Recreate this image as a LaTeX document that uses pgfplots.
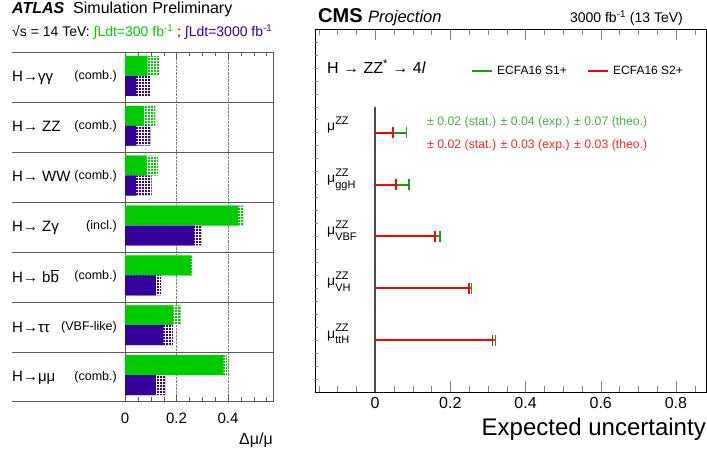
\documentclass[border=0pt]{standalone}
\usepackage{fontspec}
\setmainfont{Liberation Sans}
\usepackage{pgfplots}
\usepackage{pgfplotstable}
\pgfplotsset{compat=1.18}
\usetikzlibrary{patterns}

\definecolor{atlasgreen}{RGB}{0,204,0}
\definecolor{atlaspurple}{RGB}{51,0,153}
\definecolor{cmsgreen}{RGB}{20,160,20}
\definecolor{cmsred}{RGB}{255,0,0}
\definecolor{sepgray}{RGB}{90,90,90}

% ATLAS: solid = stat-only part, tot = incl. theory (hatched)
\pgfplotstableread{
y gsol gtot psol ptot
7 0.088 0.133 0.044 0.097
6 0.073 0.118 0.044 0.099
5 0.084 0.129 0.042 0.103
4 0.439 0.460 0.270 0.298
3 0.256 0.264 0.120 0.140
2 0.186 0.216 0.149 0.186
1 0.382 0.396 0.120 0.157
}\atlas

\newcommand{\fs}[1]{\fontsize{#1}{#1}\selectfont}
\newcommand{\mulab}[2]{μ\rlap{\raisebox{6.5pt}{\fs{11}#1}}\raisebox{-5.5pt}{\fs{11}#2}}

\begin{document}
\begin{tikzpicture}[x=1pt,y=1pt]

% ---------------- ATLAS panel ----------------
\begin{axis}[
    at={(125pt,52pt)}, anchor=south west,
    scale only axis, width=148pt, height=349pt,
    xmin=0, xmax=0.575, ymin=0.5, ymax=7.5,
    xtick={0,0.2,0.4}, minor xtick={0.05,0.1,...,0.56},
    ytick=\empty,
    tick align=inside,
    major tick length=7pt, minor tick length=4pt,
    xmajorgrids, major grid style={densely dotted, gray},
    axis line style={sepgray},
    tick style={sepgray},
    xticklabel style={font=\fs{15}, yshift=-8pt},
    /pgf/number format/assume math mode=true,
]
\addplot[xbar, bar width=0.4, bar shift=0pt, fill=atlasgreen, draw=none,
    postaction={pattern=grid, pattern color=white}]
    table[x=gtot, y expr=\thisrow{y}+0.22] {\atlas};
\addplot[xbar, bar width=0.4, bar shift=0pt, fill=atlasgreen, draw=none]
    table[x=gsol, y expr=\thisrow{y}+0.22] {\atlas};
\addplot[xbar, bar width=0.4, bar shift=0pt, fill=atlaspurple, draw=none,
    postaction={pattern=grid, pattern color=white}]
    table[x=ptot, y expr=\thisrow{y}-0.18] {\atlas};
\addplot[xbar, bar width=0.4, bar shift=0pt, fill=atlaspurple, draw=none]
    table[x=psol, y expr=\thisrow{y}-0.18] {\atlas};
\end{axis}

% row separators reaching into the label column
\foreach \yy in {52,102,152,202,252,302,352,401}
    \draw[sepgray, line width=0.8pt] (12,453-\yy) -- (273,453-\yy);

\node[anchor=base west, inner sep=0] at (12,439) {\fs{16}\bfseries\itshape ATLAS};
\node[anchor=base west, inner sep=0] at (73,439) {\fs{16}Simulation Preliminary};
\node[anchor=base west, inner sep=0] at (12,416) {\fs{14}√s = 14 TeV: \textcolor{atlasgreen}{∫Ldt=300 fb\textsuperscript{-1}} ; \textcolor{atlaspurple}{∫Ldt=3000 fb\textsuperscript{-1}}};

\node[anchor=base west, inner sep=0] at (12,371) {\fs{15}H→γγ};
\node[anchor=base west, inner sep=0] at (12,321) {\fs{15}H→ ZZ};
\node[anchor=base west, inner sep=0] at (12,271) {\fs{15}H→ WW};
\node[anchor=base west, inner sep=0] at (12,221) {\fs{15}H→ Zγ};
\node[anchor=base west, inner sep=0] at (12,171) {\fs{15}H→ b$\overline{\mbox{b}}$};
\node[anchor=base west, inner sep=0] at (12,121) {\fs{15}H→ττ};
\node[anchor=base west, inner sep=0] at (12,72) {\fs{15}H→μμ};

\node[anchor=base east, inner sep=0] at (117,373) {\fs{12.5}(comb.)};
\node[anchor=base east, inner sep=0] at (117,323) {\fs{12.5}(comb.)};
\node[anchor=base east, inner sep=0] at (117,273) {\fs{12.5}(comb.)};
\node[anchor=base east, inner sep=0] at (117,223) {\fs{12.5}(incl.)};
\node[anchor=base east, inner sep=0] at (117,173) {\fs{12.5}(comb.)};
\node[anchor=base east, inner sep=0] at (117,123) {\fs{12.5}(VBF-like)};
\node[anchor=base east, inner sep=0] at (117,73) {\fs{12.5}(comb.)};

\node[anchor=base east, inner sep=0] at (273,9) {\fs{16}Δμ/μ};

% ---------------- CMS panel ----------------
\begin{axis}[
    at={(315pt,61pt)}, anchor=south west,
    scale only axis, width=391pt, height=363pt,
    xmin=-0.16, xmax=0.88, ymin=0, ymax=7,
    xtick={0,0.2,0.4,0.6,0.8}, minor xtick={-0.15,-0.1,...,0.86},
    ytick=\empty,
    tick align=inside,
    major tick length=11pt, minor tick length=6pt,
    axis line style={black, line width=0.8pt},
    xticklabel style={font=\fs{16}, yshift=-2pt},
    /pgf/number format/assume math mode=true,
    every axis plot/.append style={line width=2pt},
    cap/.style={mark=|, mark indices={2}, mark options={solid, line width=1.6pt, mark size=5.5pt}},
]
\addplot[gray!60!black, line width=1.5pt] coordinates {(0,0) (0,5.5)};
% ECFA16 S1+ (green), drawn below S2+ (red)
\addplot[cmsgreen, cap] coordinates {(0,5) (0.083,5)};
\addplot[cmsgreen, cap] coordinates {(0,4) (0.090,4)};
\addplot[cmsgreen, cap] coordinates {(0,3) (0.172,3)};
\addplot[cmsgreen, cap] coordinates {(0,2) (0.256,2)};
\addplot[cmsgreen, cap] coordinates {(0,1) (0.320,1)};
\addplot[cmsred, cap] coordinates {(0,5) (0.048,5)};
\addplot[cmsred, cap] coordinates {(0,4) (0.055,4)};
\addplot[cmsred, cap] coordinates {(0,3) (0.159,3)};
\addplot[cmsred, cap] coordinates {(0,2) (0.250,2)};
\addplot[cmsred, cap] coordinates {(0,1) (0.312,1)};
% faint small ticks along the left edge
\pgfplotsinvokeforeach{1,...,27}{
    \draw[gray, line width=0.5pt] (rel axis cs:0,#1/28) -- (rel axis cs:0.008,#1/28);
}
\end{axis}

\node[anchor=base west, inner sep=0] at (318,430) {\fs{20}\bfseries CMS};
\node[anchor=base west, inner sep=0] at (368,430) {\fs{16.5}\itshape Projection};
\node[anchor=base east, inner sep=0] at (683,430) {\fs{14}3000 fb\textsuperscript{-1} (13 TeV)};

\node[anchor=base west, inner sep=0] at (327,379) {\fs{16}H → ZZ\textsuperscript{*} → 4\textit{l}};
\draw[cmsgreen, line width=2pt] (472,382) -- (492,382);
\node[anchor=base west, inner sep=0] at (497,378) {\fs{12}ECFA16 S1+};
\draw[cmsred, line width=2pt] (588,382) -- (608,382);
\node[anchor=base west, inner sep=0] at (613,378) {\fs{12}ECFA16 S2+};

\node[anchor=base west, inner sep=0, text=cmsgreen!80!white] at (427,327) {\fs{12.3}± 0.02 (stat.) ± 0.04 (exp.) ± 0.07 (theo.)};
\node[anchor=base west, inner sep=0, text=cmsred!85!white] at (427,304) {\fs{12.3}± 0.02 (stat.) ± 0.03 (exp.) ± 0.03 (theo.)};

\node[anchor=base west, inner sep=0] at (327,322) {\fs{14}\mulab{ZZ}{}};
\node[anchor=base west, inner sep=0] at (327,270) {\fs{14}\mulab{ZZ}{ggH}};
\node[anchor=base west, inner sep=0] at (327,218) {\fs{14}\mulab{ZZ}{VBF}};
\node[anchor=base west, inner sep=0] at (327,167) {\fs{14}\mulab{ZZ}{VH}};
\node[anchor=base west, inner sep=0] at (327,115) {\fs{14}\mulab{ZZ}{ttH}};

\node[anchor=base east, inner sep=0] at (706,18) {\fs{24}Expected uncertainty};

\pgfresetboundingbox
\path (0,0) rectangle (707,453);
\end{tikzpicture}
\end{document}
